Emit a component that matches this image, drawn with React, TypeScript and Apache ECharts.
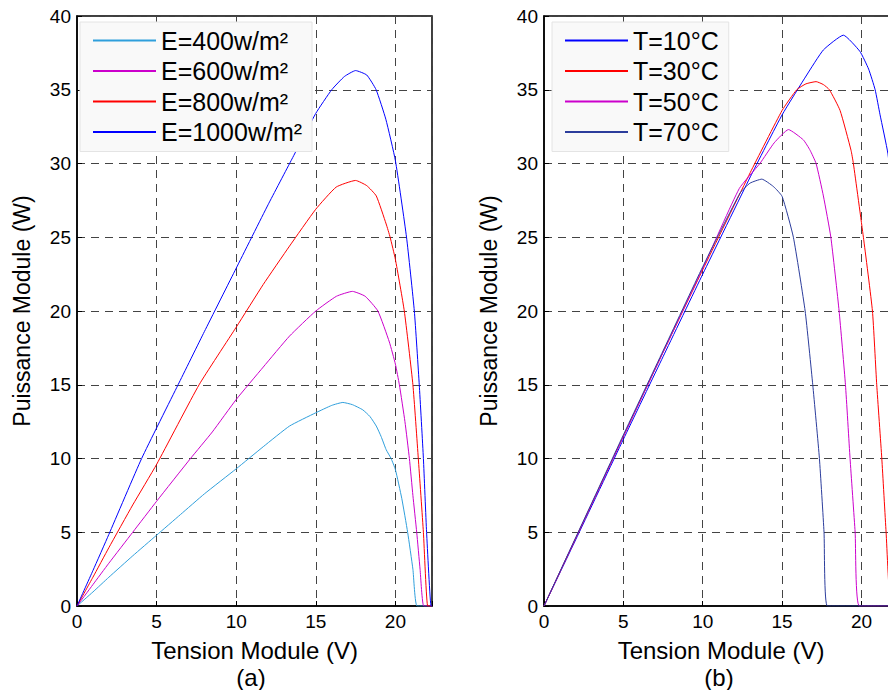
import React, { useEffect, useRef } from "react";
import * as echarts from "echarts";

// ---- data (V, P) ----
const voltageMax = 22.3;
const yTicks = [0, 5, 10, 15, 20, 25, 30, 35, 40];

const namesE = ["E=400w/m²", "E=600w/m²", "E=800w/m²", "E=1000w/m²"];
const namesT = ["T=10°C", "T=30°C", "T=50°C", "T=70°C"];

const E400: [number, number][] = [[0,0],[1,0.95],[2,1.95],[3.5,3.4],[5,4.8],[6.5,6.2],[8,7.6],[10,9.3],[11.7,10.8],[13.35,12.2],[15,13.1],[16,13.6],[16.7,13.8],[17.3,13.65],[17.95,13.3],[18.4,12.85],[18.8,12.2],[19.1,11.5],[19.42,10.6],[19.73,10],[20,9.25],[20.4,7.3],[20.77,5],[21.1,2.5],[21.36,0],[22.3,0]];
const E600: [number, number][] = [[0,0],[1,1.45],[2,2.9],[3.5,5.0],[5,7.1],[7.13,10],[8.5,11.8],[10,14.0],[11.7,16.2],[13.35,18.3],[15,20],[16.3,21.0],[17.3,21.33],[18.1,21.0],[18.9,20],[19.62,17.9],[20,16.4],[20.25,15],[20.6,12.5],[20.88,10],[21.1,7.5],[21.34,5],[21.55,2.5],[21.78,0],[22.3,0]];
const E800: [number, number][] = [[0,0],[1,1.95],[2,3.95],[3.5,6.85],[5,9.6],[7.67,15],[10,18.9],[11.7,21.8],[13.35,24.4],[15,26.9],[16.28,28.4],[17.5,28.85],[18.2,28.5],[18.8,27.8],[19.42,25.9],[19.67,25],[20,23.5],[20.56,20],[21.1,15],[21.44,10],[21.76,5],[22.03,0],[22.3,0]];
const E1000: [number, number][] = [[0,0],[1,2.4],[2,4.85],[4.06,10],[6.35,15],[8,18.6],[10,22.9],[12,27.2],[13.5,30.3],[15,33.4],[16,35.0],[16.8,35.9],[17.5,36.3],[18.2,36.0],[18.79,35],[19.4,33.0],[20,30.2],[20.7,25],[21.19,20],[21.5,15],[21.76,10],[21.96,5],[22.24,0],[22.3,0]];

const T10: [number, number][] = [[0,0],[2,4.5],[5,11.3],[7.5,16.9],[10,22.5],[13,29.1],[15,33.3],[16.55,36.0],[17.6,37.7],[18.86,38.7],[19.9,37.6],[20.45,36.4],[20.86,35],[21.17,33.3],[21.66,30.7],[22.0,27.5],[22.3,23]];
const T30: [number, number][] = [[0,0],[2,4.6],[5,11.5],[7.5,17.2],[10,22.8],[13,29.4],[15,33.6],[15.92,35.0],[16.5,35.4],[17.14,35.55],[17.6,35.35],[17.98,35],[18.65,33.6],[19.34,30.9],[19.49,30],[20.12,25],[20.69,20],[20.96,15],[21.28,10],[21.55,5],[21.85,0],[22.3,0]];
const T50: [number, number][] = [[0,0],[2,4.6],[5,11.5],[7.5,17.2],[10,22.9],[12.3,28.3],[13.6,30.0],[14.5,31.4],[15.4,32.3],[16.34,31.6],[16.76,30.9],[17.14,30],[17.6,27.8],[18.07,25],[18.59,20],[18.99,15],[19.28,10],[19.6,5],[19.87,0],[22.3,0]];
const T70: [number, number][] = [[0,0],[2,4.65],[5,11.6],[7.5,17.3],[10,23.0],[12.35,28.0],[12.98,28.67],[13.72,28.94],[14.45,28.44],[15,27.77],[15.71,25],[16.45,20],[16.93,15],[17.35,10],[17.64,5],[17.85,0],[22.3,0]];

const colorsE = ["#2f9fdc", "#cc00cc", "#ff0000", "#0000ff"];
const colorsT = ["#0000ff", "#ff0000", "#cc00cc", "#2c3d9c"];

const FONT = "'Liberation Sans', Arial, sans-serif";

export default function App() {
  const ref = useRef<HTMLDivElement>(null);
  useEffect(() => {
    document.body.style.margin = "0";
    if (!ref.current) return;
    const chart = echarts.init(ref.current, null, { renderer: "svg" });

    const mkX = (gridIndex: number) => ({
      type: "value",
      gridIndex,
      min: 0,
      max: voltageMax,
      interval: 5,
      name: "Tension Module (V)",
      nameLocation: "middle",
      nameGap: 32,
      nameTextStyle: { fontSize: 24, fontFamily: FONT, color: "#000" },
      axisLine: { show: true, lineStyle: { color: "#000", width: 1.5 } },
      axisTick: { show: true, inside: true, length: 5, lineStyle: { color: "#000" } },
      axisLabel: {
        fontSize: 19,
        fontFamily: FONT,
        color: "#000",
        margin: 6,
        formatter: (v: number) => (v % 5 === 0 ? String(v) : ""),
      },
      splitLine: { show: true, lineStyle: { color: "#444", type: [8, 6], width: 1 } },
    });
    const mkY = (gridIndex: number) => ({
      type: "value",
      gridIndex,
      min: yTicks[0],
      max: yTicks[yTicks.length - 1],
      interval: 5,
      name: "Puissance Module (W)",
      nameLocation: "middle",
      nameGap: 44,
      nameTextStyle: { fontSize: 23, fontFamily: FONT, color: "#000" },
      axisLine: { show: true, lineStyle: { color: "#000", width: 1.5 } },
      axisTick: { show: true, inside: true, length: 5, lineStyle: { color: "#000" } },
      axisLabel: { fontSize: 19, fontFamily: FONT, color: "#000", margin: 6 },
      splitLine: { show: true, lineStyle: { color: "#444", type: [8, 6], width: 1 } },
    });

    const mkSeries = (name: string, data: [number, number][], color: string, idx: number) => ({
      type: "line",
      name,
      data,
      xAxisIndex: idx,
      yAxisIndex: idx,
      showSymbol: false,
      symbol: "none",
      smooth: 0.15,
      lineStyle: { color, width: 1 },
      itemStyle: { color },
      clip: true,
    });

    const mkLegend = (left: number, data: string[]) => ({
      left,
      top: 22,
      orient: "vertical",
      padding: [6, 10, 7, 13],
      itemGap: 5.5,
      itemWidth: 63,
      itemHeight: 2,
      icon: "rect",
      selectedMode: false,
      backgroundColor: "#f9f9f9",
      borderColor: "#e4e4e4",
      borderWidth: 1,
      textStyle: { fontSize: 25, fontFamily: FONT, color: "#000", lineHeight: 24 },
      data,
    });

    const seriesE = [E400, E600, E800, E1000];
    const seriesT = [T10, T30, T50, T70];

    chart.setOption({
      animation: false,
      backgroundColor: "#fff",
      grid: [
        { left: 77, top: 16, width: 355, height: 590, show: true, borderColor: "#000", borderWidth: 1.5, containLabel: false, outerBoundsMode: "none" },
        { left: 544, top: 16, width: 354, height: 590, show: true, borderColor: "#000", borderWidth: 1.5, containLabel: false, outerBoundsMode: "none" },
      ],
      xAxis: [mkX(0), mkX(1)],
      yAxis: [mkY(0), mkY(1)],
      legend: [mkLegend(80, namesE), mkLegend(552, namesT)],
      series: [
        ...seriesE.map((d, i) => mkSeries(namesE[i], d, colorsE[i], 0)),
        ...seriesT.map((d, i) => mkSeries(namesT[i], d, colorsT[i], 1)),
      ],
      graphic: [
        { type: "text", x: 251, y: 677, style: { text: "(a)", font: `24px ${FONT}`, fill: "#000", align: "center", verticalAlign: "middle" } },
        { type: "text", x: 719, y: 677, style: { text: "(b)", font: `24px ${FONT}`, fill: "#000", align: "center", verticalAlign: "middle" } },
      ],
    });
    return () => chart.dispose();
  }, []);
  return <div ref={ref} style={{ width: 888, height: 690 }} />;
}
